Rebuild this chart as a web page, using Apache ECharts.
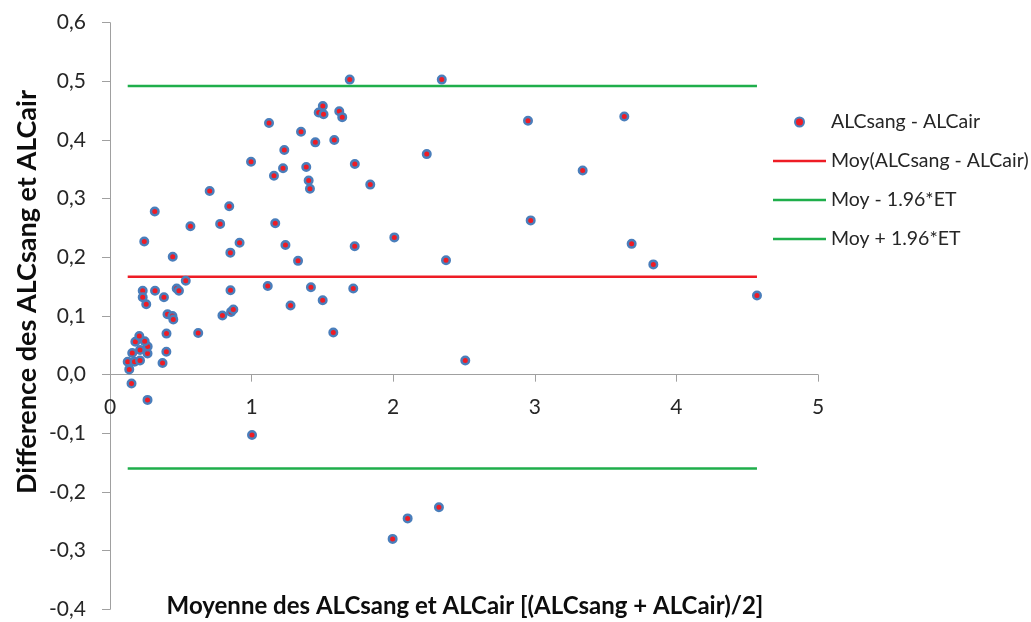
<!DOCTYPE html>
<html>
<head>
<meta charset="utf-8">
<script src="https://cdn.jsdelivr.net/npm/echarts@6/dist/echarts.min.js"></script>
<style>
html,body{margin:0;padding:0;background:#fff;}
#chart{width:1031px;height:622px;}
</style>
</head>
<body>
<div id="chart"></div>
<script>
// Moyenne (x) and Difference (y) of each pair
const meanValues = [
  0.125, 0.173, 0.212, 0.136, 0.152, 0.265, 0.157, 0.212, 0.265, 0.266,
  0.179, 0.245, 0.207, 0.371, 0.398, 0.399, 0.623, 0.406, 0.441, 0.447,
  0.794, 0.855, 0.871, 0.231, 0.231, 0.256, 0.318, 0.381, 0.471, 0.487,
  0.535, 0.851, 1.114, 1.275, 1.419, 1.502, 1.577, 1.718, 1.003, 0.443,
  0.242, 0.850, 0.915, 1.239, 1.328, 1.728, 0.316, 0.568, 0.778, 0.842,
  0.704, 1.167, 1.123, 0.996, 1.231, 1.222, 1.386, 1.158, 1.403, 1.412,
  1.349, 1.450, 1.584, 1.729, 1.838, 1.503, 1.474, 1.508, 1.619, 1.640,
  1.693, 2.008, 2.343, 2.237, 2.952, 3.632, 3.338, 2.971, 3.684, 2.373,
  3.837, 4.569, 2.509, 2.323, 2.102, 1.996
];
const diffValues = [
  0.022, 0.022, 0.024, 0.009, -0.015, -0.043, 0.037, 0.042, 0.036, 0.048,
  0.056, 0.057, 0.066, 0.020, 0.039, 0.070, 0.071, 0.103, 0.100, 0.094,
  0.101, 0.107, 0.111, 0.143, 0.132, 0.120, 0.143, 0.132, 0.147, 0.143,
  0.160, 0.144, 0.151, 0.118, 0.149, 0.127, 0.072, 0.147, -0.103, 0.201,
  0.227, 0.208, 0.225, 0.221, 0.194, 0.219, 0.278, 0.253, 0.257, 0.287,
  0.313, 0.258, 0.429, 0.363, 0.383, 0.352, 0.354, 0.339, 0.331, 0.317,
  0.414, 0.396, 0.400, 0.359, 0.324, 0.458, 0.447, 0.444, 0.449, 0.439,
  0.503, 0.234, 0.503, 0.376, 0.433, 0.440, 0.348, 0.263, 0.223, 0.195,
  0.188, 0.135, 0.024, -0.226, -0.245, -0.280
];
const meanDiff = 0.167;
const lowerLimit = -0.160;
const upperLimit = 0.492;
const yMin = -0.4, yMax = 0.6;
const seriesNames = ['ALCsang - ALCair', 'Moy(ALCsang - ALCair)', 'Moy - 1.96*ET', 'Moy + 1.96*ET'];
const xTitle = 'Moyenne des ALCsang et ALCair [(ALCsang + ALCair)/2]';
const yTitle = 'Difference des ALCsang et ALCair';

const points = meanValues.map((x, i) => [x, diffValues[i]]);
const xMin = Math.min(...meanValues);
const xMax = Math.max(...meanValues);
const hline = v => [[xMin, v], [xMax, v]];

const FONT = 'Lato';
const RED = '#ee1c25', GREEN = '#1fae4b', BLUE = '#4a7ebb';
const lineIcon = 'path://M0,0 L53,0 L53,2.5 L0,2.5 Z';
const gridTop = 22.7, gridBottom = 12.7, H = 622;
const plotH = H - gridTop - gridBottom;
// move the x axis from the grid bottom up to the y = 0 level
const xAxisOffset = -plotH * (0 - yMin) / (yMax - yMin);

const chart = echarts.init(document.getElementById('chart'));
chart.setOption({
  animation: false,
  backgroundColor: '#ffffff',
  grid: {left: 110, right: 213, top: gridTop, bottom: gridBottom, containLabel: false, outerBoundsMode: 'none'},
  xAxis: {
    type: 'value', min: 0, max: 5, interval: 1, position: 'bottom', offset: xAxisOffset,
    axisLine: {show: true, onZero: false, lineStyle: {color: '#a0a0a0', width: 1}},
    axisTick: {show: true, inside: false, length: 7, lineStyle: {color: '#a0a0a0'}},
    axisLabel: {show: true, margin: 22, fontFamily: FONT, fontSize: 21, color: '#262626'},
    splitLine: {show: false}
  },
  yAxis: {
    type: 'value', min: yMin, max: yMax, interval: 0.1,
    axisLine: {show: true, lineStyle: {color: '#a0a0a0', width: 1}},
    axisTick: {show: true, inside: false, length: 8, lineStyle: {color: '#a0a0a0'}},
    axisLabel: {margin: 24, fontFamily: FONT, fontSize: 21, color: '#262626',
      formatter: v => (Math.round(v * 10) / 10).toFixed(1).replace('.', ',')},
    splitLine: {show: false}
  },
  legend: {
    orient: 'vertical', left: 773, top: 112, padding: 0,
    itemWidth: 53, itemHeight: 9, itemGap: 19,
    textStyle: {fontFamily: FONT, fontSize: 19.5, color: '#262626', lineHeight: 20},
    data: [
      {name: seriesNames[0]},
      {name: seriesNames[1], icon: lineIcon},
      {name: seriesNames[2], icon: lineIcon},
      {name: seriesNames[3], icon: lineIcon}
    ]
  },
  graphic: [
    {type: 'text', x: 465, y: 606, style: {text: xTitle, fontFamily: FONT, fontWeight: 'bold', fontSize: 24, fill: '#0d0d0d', align: 'center', verticalAlign: 'middle'}},
    {type: 'text', x: 27, y: 292, rotation: Math.PI / 2, style: {text: yTitle, fontFamily: FONT, fontWeight: 'bold', fontSize: 27, fill: '#0d0d0d', align: 'center', verticalAlign: 'middle'}}
  ],
  series: [
    {name: seriesNames[0], type: 'scatter', data: points, symbol: 'circle', symbolSize: 7.5, z: 5,
      itemStyle: {color: RED, borderColor: BLUE, borderWidth: 2.5, opacity: 1}},
    {name: seriesNames[1], type: 'line', data: hline(meanDiff), symbol: 'none', lineStyle: {color: RED, width: 2.5}, itemStyle: {color: RED}},
    {name: seriesNames[2], type: 'line', data: hline(lowerLimit), symbol: 'none', lineStyle: {color: GREEN, width: 2.5}, itemStyle: {color: GREEN}},
    {name: seriesNames[3], type: 'line', data: hline(upperLimit), symbol: 'none', lineStyle: {color: GREEN, width: 2.5}, itemStyle: {color: GREEN}}
  ]
});
</script>
</body>
</html>
